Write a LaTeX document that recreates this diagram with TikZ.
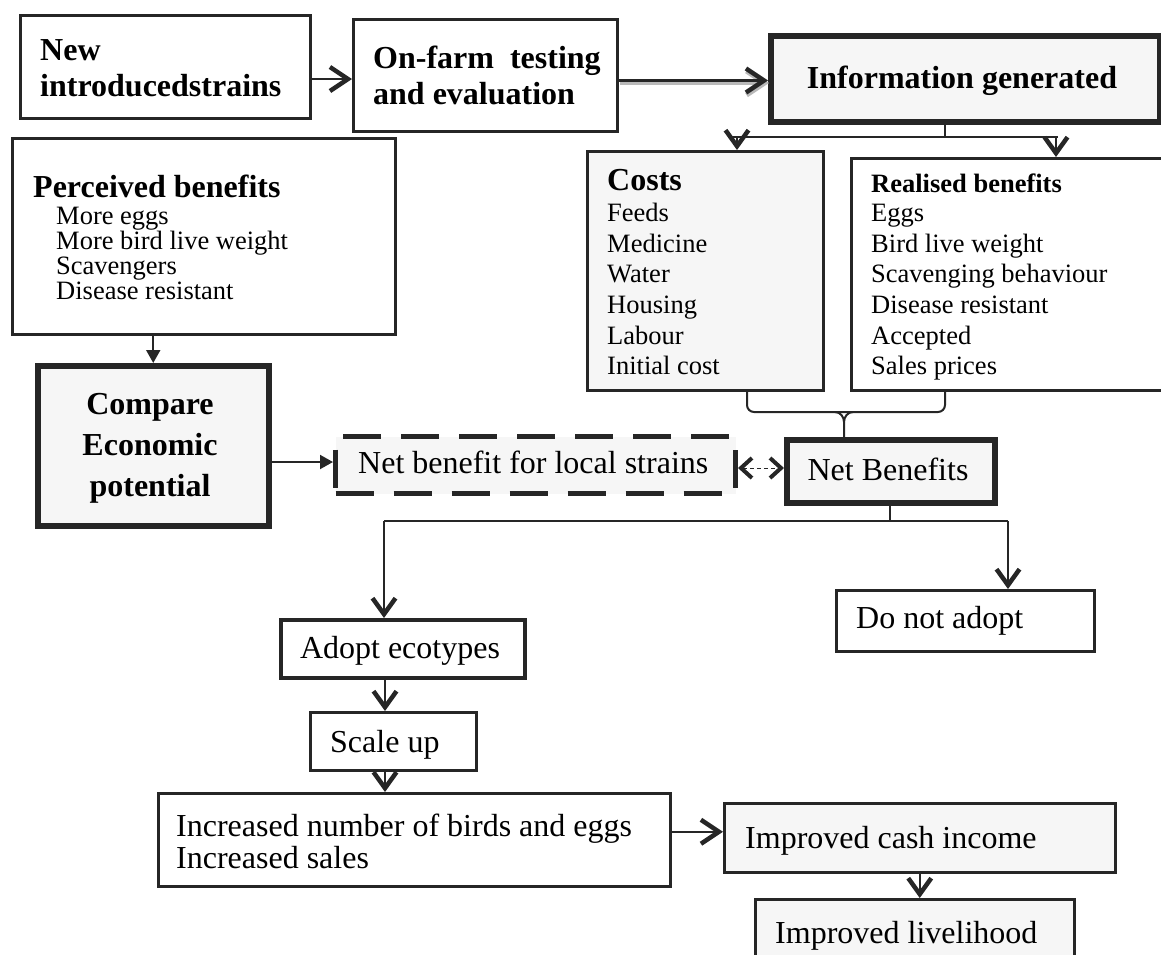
\documentclass[tikz,border=0pt]{standalone}
\usepackage{fontspec}
\setmainfont{Liberation Serif}
\usetikzlibrary{arrows.meta}
\definecolor{ln}{RGB}{38,38,38}
\definecolor{bf}{RGB}{246,246,246}
\tikzset{
  barbH/.tip={Straight Barb[length=18pt,width=24pt,line width=4.5pt]},
  barbS/.tip={Straight Barb[length=11pt,width=20pt,line width=4pt]},
  barbD/.tip={Straight Barb[length=16pt,width=23pt,line width=4.5pt]},
  tri/.tip={Triangle[length=13pt,width=14pt]},
  bx/.style={draw=ln, line width=3pt, rectangle, inner sep=0pt, anchor=north west},
  bxthick/.style={bx, line width=5.5pt},
  gfill/.style={fill=bf},
  hb/.style={font=\fontsize{32}{37}\selectfont\bfseries, inner sep=0pt, anchor=base west},
  hbs/.style={font=\fontsize{26.5}{30}\selectfont\bfseries, inner sep=0pt, anchor=base west},
  tr/.style={font=\fontsize{32}{37}\selectfont, inner sep=0pt, anchor=base west},
  ts/.style={font=\fontsize{26.5}{30}\selectfont, inner sep=0pt, anchor=base west},
  con/.style={draw=ln, line width=2pt},
}
\begin{document}
\begin{tikzpicture}[x=1pt,y=-1pt]
\useasboundingbox (0,0) rectangle (1161,954);
\clip (0,0) rectangle (1161,954);
% boxes
\node[bx, minimum width=290pt, minimum height=103pt] (A) at (19,14) {};
\node[bx, minimum width=264pt, minimum height=112pt] (B) at (352,18) {};
\node[bxthick, gfill, minimum width=389pt, minimum height=86pt] (C) at (768,33) {};
\node[bx, gfill, minimum width=236pt, minimum height=239pt] (Costs) at (586,150) {};
\node[bx, minimum width=330pt, minimum height=232pt] (Real) at (850,157) {};
\node[bx, minimum width=383pt, minimum height=196pt] (Perc) at (11,137) {};
\node[bxthick, gfill, minimum width=231pt, minimum height=160pt] (Comp) at (35,363) {};
\node[bx, gfill, draw=ln, line width=5pt, dash pattern=on 38pt off 20pt, minimum width=400pt, minimum height=57pt] (Dash) at (333,434) {};
\node[bxthick, gfill, minimum width=208pt, minimum height=63pt] (Net) at (784,437) {};
\node[bx, minimum width=258pt, minimum height=61pt] (DNA) at (835,589) {};
\node[bx, line width=4pt, minimum width=244pt, minimum height=58pt] (Adopt) at (279,618) {};
\node[bx, minimum width=166pt, minimum height=58pt] (Scale) at (309,711) {};
\node[bx, line width=2.5pt, minimum width=512pt, minimum height=93pt] (Inc) at (157,792) {};
\node[bx, gfill, line width=2.5pt, minimum width=391pt, minimum height=69pt] (Cash) at (723,802) {};
\node[bx, gfill, line width=2.5pt, minimum width=319pt, minimum height=80pt] (Live) at (754,898) {};
% texts
\node[hb] (tA1) at (40,60) {New};
\node[hb] (tA2) at (40,96) {introducedstrains};
\node[hb] (tB1) at (373,68) {On-farm\ \ testing};
\node[hb] (tB2) at (373,104) {and evaluation};
\node[hb, anchor=base] (tC) at (962,88) {Information generated};
\node[hb] (tCo) at (607,190) {Costs};
\node[ts] (tCo1) at (607,221) {Feeds};
\node[ts] (tCo2) at (607,252) {Medicine};
\node[ts] (tCo3) at (607,282) {Water};
\node[ts] (tCo4) at (607,313) {Housing};
\node[ts] (tCo5) at (607,344) {Labour};
\node[ts] (tCo6) at (607,374) {Initial cost};
\node[hbs] (tR) at (871,192) {Realised benefits};
\node[ts] (tR1) at (871,221) {Eggs};
\node[ts] (tR2) at (871,252) {Bird live weight};
\node[ts] (tR3) at (871,282) {Scavenging behaviour};
\node[ts] (tR4) at (871,313) {Disease resistant};
\node[ts] (tR5) at (871,344) {Accepted};
\node[ts] (tR6) at (871,374) {Sales prices};
\node[hb] (tP) at (33,197) {Perceived benefits};
\node[ts] (tP1) at (56,224) {More eggs};
\node[ts] (tP2) at (56,249) {More bird live weight};
\node[ts] (tP3) at (56,274) {Scavengers};
\node[ts] (tP4) at (56,299) {Disease resistant};
\node[hb, anchor=base] (tM1) at (150,414) {Compare};
\node[hb, anchor=base] (tM2) at (150,455) {Economic};
\node[hb, anchor=base] (tM3) at (150,496) {potential};
\node[tr] (tD) at (358,473) {Net benefit for local strains};
\node[tr, anchor=base] (tN) at (888,480) {Net Benefits};
\node[tr] (tX) at (856,628) {Do not adopt};
\node[tr, anchor=base] (tAd) at (400,658) {Adopt ecotypes};
\node[tr] (tS) at (330,752) {Scale up};
\node[tr] (tI1) at (176,836) {Increased number of birds and eggs};
\node[tr] (tI2) at (176,868) {Increased sales};
\node[tr] (tCa) at (745,848) {Improved cash income};
\node[tr] (tL) at (775,943) {Improved livelihood};
% connectors
\draw[con, -barbH] ([yshift=-12pt]A.east) -- ([yshift=-12pt]A.east -| B.west);
\draw[draw=gray!55, line width=3pt, -{Straight Barb[length=18pt,width=24pt,line width=5pt]}, transform canvas={shift={(1pt,-2.5pt)}}] ([yshift=-5pt]B.east) -- ([yshift=-5pt]B.east -| C.west);
\draw[con, line width=2.2pt, -barbH] ([yshift=-5pt]B.east) -- ([yshift=-5pt]B.east -| C.west);
\coordinate (ib) at (945,137);
\coordinate (cl) at (737,137);
\coordinate (cr) at (1056,137);
\draw[con] (ib |- C.south) -- (ib);
\draw[con] ([xshift=-8pt]cl) -- ([xshift=2pt]cr);
\draw[con, -barbD] (cl) -- (cl |- Costs.north);
\draw[con, -barbD] (cr) -- (cr |- Real.north);
% brace
\coordinate (bl) at (747,412);
\coordinate (br) at (945,412);
\coordinate (bm) at (844,412);
\draw[con, rounded corners=7pt] (bl |- Costs.south) -- (bl) -- (br) -- (br |- Real.south);
\draw[con] ([xshift=-9pt]bm) to[out=0,in=90] ([yshift=-10pt]bm) -- (bm |- Net.north);
\draw[con] ([xshift=9pt]bm) to[out=180,in=90] ([yshift=-10pt]bm);
% left column
\draw[con, -tri] (Perc.south -| Comp.north) -- (Comp.north);
\draw[con, -tri] (Comp.east |- 0,462) -- (Dash.west |- 0,462);
\draw[con, line width=1pt, dash pattern=on 4pt off 3pt, barbS-barbS] (Dash.east |- 0,468) -- (Net.west |- 0,468);
% net branch
\coordinate (nb) at (890,521);
\coordinate (nl) at (384,521);
\coordinate (nr) at (1008,521);
\draw[con] (nb |- Net.south) -- (nb);
\draw[con] (nl) -- (nr);
\draw[con, -barbD] (nl) -- (nl |- Adopt.north);
\draw[con, -barbD] (nr) -- (nr |- DNA.north);
\coordinate (as) at (385,700);
\draw[con, -barbD] (Adopt.south -| as) -- (Scale.north -| as);
\draw[con, -barbD] (Scale.south -| as) -- (Inc.north -| as);
\draw[con, -barbH] ([yshift=8pt]Inc.east) -- ([yshift=8pt]Inc.east -| Cash.west);
\draw[con, -barbD] (Cash.south) -- (Cash.south |- Live.north);
\end{tikzpicture}
\end{document}
